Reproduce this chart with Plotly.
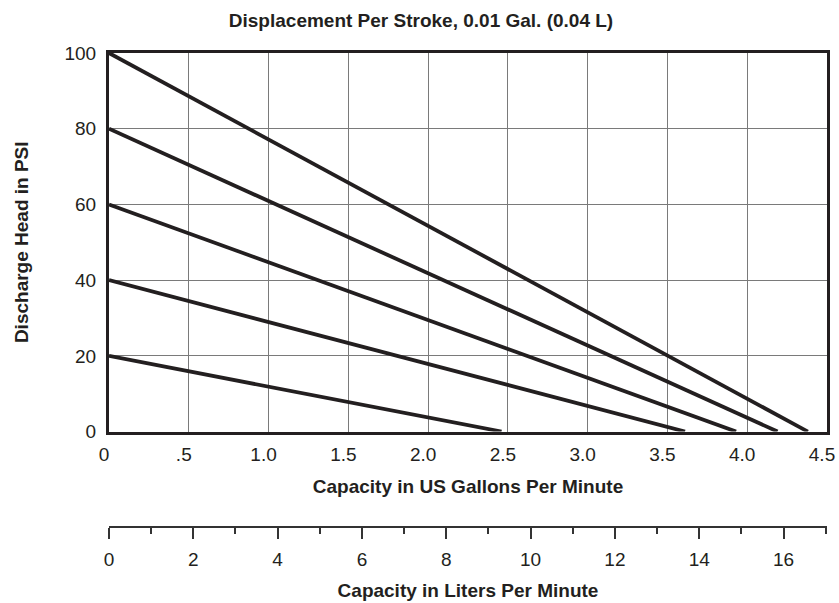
import plotly.graph_objects as go

# Data
head_start_psi = [100, 80, 60, 40, 20]          # discharge head at zero flow
gpm_at_zero_head = [4.38, 4.19, 3.93, 3.61, 2.46]  # capacity where head reaches 0

title_text = "Displacement Per Stroke, 0.01 Gal. (0.04 L)"
gal_ticks = [0, 0.5, 1.0, 1.5, 2.0, 2.5, 3.0, 3.5, 4.0, 4.5]
gal_ticklabels = ["0", ".5", "1.0", "1.5", "2.0", "2.5", "3.0", "3.5", "4.0", "4.5"]
psi_ticks = [0, 20, 40, 60, 80, 100]
liter_ticks = [0, 2, 4, 6, 8, 10, 12, 14, 16]
gal_max = 4.5
liter_max = 17.03

FONT = "Liberation Sans, Arial, sans-serif"
INK = "#231f20"
FS = 19

fig = go.Figure()
for h0, q0 in zip(head_start_psi, gpm_at_zero_head):
    fig.add_trace(go.Scatter(
        x=[0, q0], y=[h0, 0], mode="lines",
        line=dict(color=INK, width=3.8),
        showlegend=False, hoverinfo="skip", cliponaxis=False,
    ))

# invisible trace so the liters axis is drawn
fig.add_trace(go.Scatter(x=[0], y=[0], xaxis="x2", mode="markers",
                         marker=dict(opacity=0), showlegend=False, hoverinfo="skip"))

W, H = 839, 603
plot_top, plot_bottom, liter_y = 52.5, 431.7, 527.3
m_l = 109
m_r = W - 827
m_t, m_b = plot_top, H - liter_y
dom0 = (liter_y - plot_bottom) / (liter_y - plot_top)

fig.update_layout(
    width=W, height=H,
    margin=dict(l=m_l, r=m_r, t=m_t, b=m_b, pad=0, autoexpand=False),
    paper_bgcolor="white", plot_bgcolor="white",
    font=dict(family=FONT, size=FS, color=INK),
    hovermode=False,
    title=dict(text="<b>" + title_text + "</b>", x=421 / W, xref="container", xanchor="center",
               y=1 - 20 / H, yref="container", yanchor="middle",
               font=dict(family=FONT, size=FS, color=INK)),
    xaxis=dict(
        range=[0, gal_max], tickvals=gal_ticks, ticktext=gal_ticklabels,
        showgrid=True, gridcolor="#7a7a7a", gridwidth=1,
        showline=True, linecolor=INK, linewidth=3, mirror=True,
        ticks="", zeroline=False, anchor="y", automargin=False,
        ticklabelstandoff=4, ticklabelshift=-5, ticklabeloverflow="allow",
        title=dict(text="<b>Capacity in US Gallons Per Minute</b>", standoff=16,
                   font=dict(family=FONT, size=FS, color=INK)),
        tickfont=dict(family=FONT, size=FS, color=INK),
    ),
    yaxis=dict(
        range=[0, 100], tickvals=psi_ticks, domain=[dom0, 1],
        showgrid=True, gridcolor="#7a7a7a", gridwidth=1,
        showline=True, linecolor=INK, linewidth=3, mirror=True,
        ticks="", zeroline=False, ticklabelstandoff=6, automargin=False,
        title=dict(text="<b>Discharge Head in PSI</b>", standoff=31,
                   font=dict(family=FONT, size=FS, color=INK)),
        tickfont=dict(family=FONT, size=FS, color=INK),
    ),
    xaxis2=dict(
        range=[0, liter_max], tickvals=liter_ticks,
        anchor="free", position=0, overlaying="x", side="bottom",
        showgrid=False, zeroline=False, automargin=False,
        showline=True, linecolor="#333333", linewidth=1.5,
        ticks="outside", ticklen=11, tickwidth=1.5, tickcolor="#333333",
        minor=dict(dtick=1, tick0=0, ticks="outside", ticklen=6, tickwidth=1.5, tickcolor="#333333"),
        ticklabelstandoff=4,
        title=dict(text="<b>Capacity in Liters Per Minute</b>", standoff=14,
                   font=dict(family=FONT, size=FS, color=INK)),
        tickfont=dict(family=FONT, size=FS, color=INK),
    ),
)

# remove the page's default 8px body margin so the figure fills the window exactly
fig.write_html(
    "out.html",
    config={"displayModeBar": False},
    post_script="document.body.style.margin='0px';document.body.style.overflow='hidden';",
)
